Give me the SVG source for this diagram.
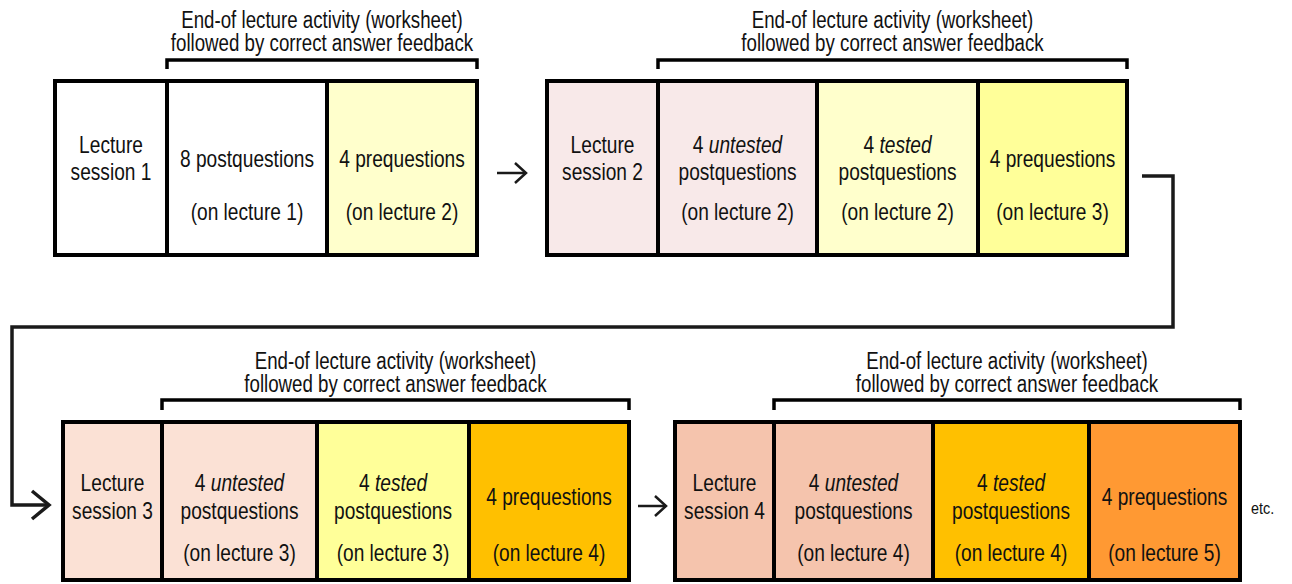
<svg xmlns="http://www.w3.org/2000/svg" width="1292" height="584" viewBox="0 0 1292 584">
<style>
.c{stroke:#000;stroke-width:4}
.t{font-family:"Liberation Sans",Arial,sans-serif;font-size:23px;fill:#111;text-anchor:middle}
.h{font-family:"Liberation Sans",Arial,sans-serif;font-size:23px;fill:#111;text-anchor:middle}
.e{font-family:"Liberation Sans",Arial,sans-serif;font-size:16px;fill:#111}
.i{font-style:italic}
.br{fill:none;stroke:#000;stroke-width:3.5}
.ln{fill:none;stroke:#1a1a1a;stroke-linejoin:miter}
</style>
<defs>
<marker id="chevS" markerUnits="userSpaceOnUse" markerWidth="30" markerHeight="30" viewBox="-15 -15 30 30" refX="0" refY="0" orient="auto" overflow="visible">
<path d="M-11,-10 L0,0 L-11,10" fill="none" stroke="#1a1a1a" stroke-width="2.5"/>
</marker>
<marker id="chevL" markerUnits="userSpaceOnUse" markerWidth="40" markerHeight="40" viewBox="-20 -20 40 40" refX="0" refY="0" orient="auto" overflow="visible">
<path d="M-17,-14 L0,0 L-17,14" fill="none" stroke="#1a1a1a" stroke-width="3.5"/>
</marker>
</defs>

<g id="header1">
<text class="h" transform="translate(322,27.5) scale(0.813,1)">End-of lecture activity (worksheet)</text>
<text class="h" transform="translate(322,50.5) scale(0.813,1)">followed by correct answer feedback</text>
<path class="br" d="M167,69 V60 H477 V69"/>
</g>
<g id="header2">
<text class="h" transform="translate(892.5,27.5) scale(0.813,1)">End-of lecture activity (worksheet)</text>
<text class="h" transform="translate(892.5,50.5) scale(0.813,1)">followed by correct answer feedback</text>
<path class="br" d="M658,69 V60 H1127 V69"/>
</g>
<g id="header3">
<text class="h" transform="translate(395.5,368.5) scale(0.813,1)">End-of lecture activity (worksheet)</text>
<text class="h" transform="translate(395.5,391.5) scale(0.813,1)">followed by correct answer feedback</text>
<path class="br" d="M162,410 V400 H629 V410"/>
</g>
<g id="header4">
<text class="h" transform="translate(1007,368.5) scale(0.813,1)">End-of lecture activity (worksheet)</text>
<text class="h" transform="translate(1007,391.5) scale(0.813,1)">followed by correct answer feedback</text>
<path class="br" d="M774,410 V400 H1240 V410"/>
</g>

<g id="lecture1">
<rect class="c" x="55" y="81" width="112" height="174" fill="#ffffff"/>
<text class="t" transform="translate(111,153) scale(0.832,1)">Lecture</text>
<text class="t" transform="translate(111,180) scale(0.832,1)">session 1</text>
</g>
<g id="post1">
<rect class="c" x="167" y="81" width="160" height="174" fill="#ffffff"/>
<text class="t" transform="translate(247,166.5) scale(0.832,1)">8 postquestions</text>
<text class="t" transform="translate(247,220) scale(0.832,1)">(on lecture 1)</text>
</g>
<g id="pre2">
<rect class="c" x="327" y="81" width="150" height="174" fill="#ffffcc"/>
<text class="t" transform="translate(402,166.5) scale(0.832,1)">4 prequestions</text>
<text class="t" transform="translate(402,220) scale(0.832,1)">(on lecture 2)</text>
</g>

<g id="lecture2">
<rect class="c" x="547" y="81" width="111" height="174" fill="#f8e9e9"/>
<text class="t" transform="translate(602.5,153) scale(0.832,1)">Lecture</text>
<text class="t" transform="translate(602.5,180) scale(0.832,1)">session 2</text>
</g>
<g id="untested2">
<rect class="c" x="658" y="81" width="159" height="174" fill="#f8e9e9"/>
<text class="t" transform="translate(737.5,153) scale(0.832,1)">4 <tspan class="i">untested</tspan></text>
<text class="t" transform="translate(737.5,180) scale(0.832,1)">postquestions</text>
<text class="t" transform="translate(737.5,220) scale(0.832,1)">(on lecture 2)</text>
</g>
<g id="tested2">
<rect class="c" x="817" y="81" width="161" height="174" fill="#ffffcc"/>
<text class="t" transform="translate(897.5,153) scale(0.832,1)">4 <tspan class="i">tested</tspan></text>
<text class="t" transform="translate(897.5,180) scale(0.832,1)">postquestions</text>
<text class="t" transform="translate(897.5,220) scale(0.832,1)">(on lecture 2)</text>
</g>
<g id="pre3">
<rect class="c" x="978" y="81" width="149" height="174" fill="#ffff99"/>
<text class="t" transform="translate(1052.5,166.5) scale(0.832,1)">4 prequestions</text>
<text class="t" transform="translate(1052.5,220) scale(0.832,1)">(on lecture 3)</text>
</g>

<g id="lecture3">
<rect class="c" x="63" y="422" width="99" height="158" fill="#fbe1d5"/>
<text class="t" transform="translate(112.5,491) scale(0.832,1)">Lecture</text>
<text class="t" transform="translate(112.5,518.5) scale(0.832,1)">session 3</text>
</g>
<g id="untested3">
<rect class="c" x="162" y="422" width="155" height="158" fill="#fbe1d5"/>
<text class="t" transform="translate(239.5,491) scale(0.832,1)">4 <tspan class="i">untested</tspan></text>
<text class="t" transform="translate(239.5,518.5) scale(0.832,1)">postquestions</text>
<text class="t" transform="translate(239.5,560.5) scale(0.832,1)">(on lecture 3)</text>
</g>
<g id="tested3">
<rect class="c" x="317" y="422" width="152" height="158" fill="#ffff99"/>
<text class="t" transform="translate(393,491) scale(0.832,1)">4 <tspan class="i">tested</tspan></text>
<text class="t" transform="translate(393,518.5) scale(0.832,1)">postquestions</text>
<text class="t" transform="translate(393,560.5) scale(0.832,1)">(on lecture 3)</text>
</g>
<g id="pre4">
<rect class="c" x="469" y="422" width="160" height="158" fill="#ffc000"/>
<text class="t" transform="translate(549,505) scale(0.832,1)">4 prequestions</text>
<text class="t" transform="translate(549,560.5) scale(0.832,1)">(on lecture 4)</text>
</g>

<g id="lecture4">
<rect class="c" x="675" y="422" width="99" height="158" fill="#f5c4ad"/>
<text class="t" transform="translate(724.5,491) scale(0.832,1)">Lecture</text>
<text class="t" transform="translate(724.5,518.5) scale(0.832,1)">session 4</text>
</g>
<g id="untested4">
<rect class="c" x="774" y="422" width="159" height="158" fill="#f5c4ad"/>
<text class="t" transform="translate(853.5,491) scale(0.832,1)">4 <tspan class="i">untested</tspan></text>
<text class="t" transform="translate(853.5,518.5) scale(0.832,1)">postquestions</text>
<text class="t" transform="translate(853.5,560.5) scale(0.832,1)">(on lecture 4)</text>
</g>
<g id="tested4">
<rect class="c" x="933" y="422" width="156" height="158" fill="#ffc000"/>
<text class="t" transform="translate(1011,491) scale(0.832,1)">4 <tspan class="i">tested</tspan></text>
<text class="t" transform="translate(1011,518.5) scale(0.832,1)">postquestions</text>
<text class="t" transform="translate(1011,560.5) scale(0.832,1)">(on lecture 4)</text>
</g>
<g id="pre5">
<rect class="c" x="1089" y="422" width="151" height="158" fill="#ff9933"/>
<text class="t" transform="translate(1164.5,505) scale(0.832,1)">4 prequestions</text>
<text class="t" transform="translate(1164.5,560.5) scale(0.832,1)">(on lecture 5)</text>
</g>

<g id="etc">
<text class="e" transform="translate(1251,514) scale(0.9,1)">etc.</text>
</g>

<g id="connectors">
<path class="ln" stroke-width="2.5" d="M497,173 H526" marker-end="url(#chevS)"/>
<path class="ln" stroke-width="3.5" d="M1142,176 H1173 V327 H12 V505 H49" marker-end="url(#chevL)"/>
<path class="ln" stroke-width="2.5" d="M638,506 H666" marker-end="url(#chevS)"/>
</g>
</svg>
